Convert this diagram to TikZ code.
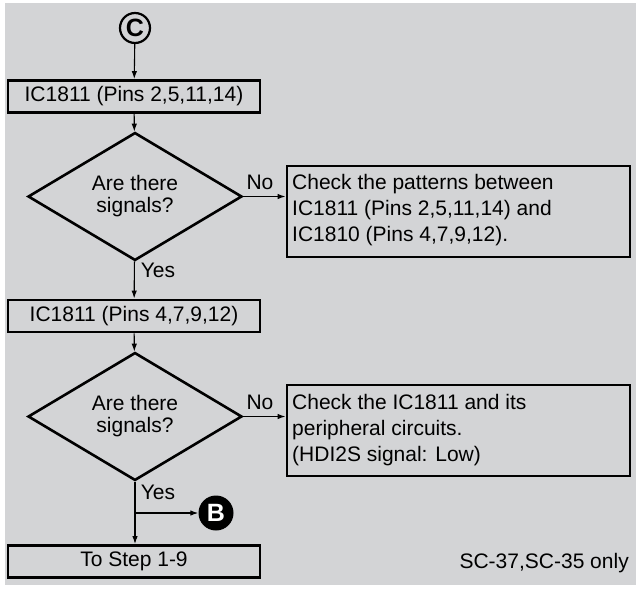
\documentclass[tikz,border=0pt]{standalone}
\usepackage{fontspec}
\setmainfont{Liberation Sans}
\usetikzlibrary{arrows.meta,shapes.geometric}
\definecolor{bggray}{HTML}{D3D4D6}
\tikzset{
  txt/.style={font=\fontsize{21}{26}\selectfont},
  stepbox/.style={txt,draw=black,line width=2.9pt,minimum width=252pt,minimum height=32pt,inner sep=0pt},
  notebox/.style={draw=black,line width=2.9pt,minimum width=343pt,inner sep=0pt},
  decision/.style={txt,diamond,draw=black,line width=2.6pt,minimum width=214pt,minimum height=117pt,inner sep=0pt,align=center,font=\fontsize{21}{22}\selectfont},
  conn/.style={line width=1.1pt,-{Latex[length=8pt,width=5.5pt]}},
  lbl/.style={txt,inner sep=0pt}
}
\begin{document}
\begin{tikzpicture}[x=1pt,y=-1pt]
\useasboundingbox (0,0) rectangle (637,592);
\fill[white] (0,0) rectangle (637,592);
\fill[bggray] (5,3) rectangle (636,585);
% connectors C and B
\node[circle,draw=black,line width=2.2pt,minimum size=30pt,inner sep=0pt,font=\fontsize{25}{25}\selectfont\bfseries] (C) at (135,28) {C};
\node[stepbox] (b1) at (134,96.5) {IC1811 (Pins 2,5,11,14)};
\node[decision] (d1) at (135,196.5) {Are there\\signals?};
\node[notebox,minimum height=91pt] (n1) at (458.5,211.5) {};
\node[lbl,align=left,anchor=west] (n1t) at (292,210) {Check the patterns between\\IC1811 (Pins 2,5,11,14) and\\IC1810 (Pins 4,7,9,12).};
\node[stepbox] (b2) at (134,316) {IC1811 (Pins 4,7,9,12)};
\node[decision] (d2) at (135,416.5) {Are there\\signals?};
\node[notebox,minimum height=91pt] (n2) at (458.5,430.5) {};
\node[lbl,align=left,anchor=west] (n2t) at (292,430) {Check the IC1811 and its\\peripheral circuits.\\(HDI2S signal: Low)};
\node[stepbox] (b3) at (134,561.5) {To Step 1-9};
\node[circle,fill=black,minimum size=35pt,inner sep=0pt,text=white,font=\fontsize{25}{25}\selectfont\bfseries] (B) at (216,513) {B};
\node[lbl,anchor=east] (note) at (629,563) {SC-37,SC-35 only};
% labels
\node[lbl] (no1) at (260,182) {No};
\node[lbl] (yes1) at (158,270) {Yes};
\node[lbl] (no2) at (260,402) {No};
\node[lbl] (yes2) at (158,492) {Yes};
\coordinate (br) at (135,513);
% connectors
\draw[conn] (C) -- (b1);
\draw[conn] (b1) -- (d1);
\draw[conn] (d1.east) -- (d1.east -| n1.west);
\draw[conn] (d1) -- (b2);
\draw[conn] (b2) -- (d2);
\draw[conn] (d2.east) -- (d2.east -| n2.west);
\draw[conn] (d2.south) -- (b3.north -| d2.south);
\draw[conn] (br) -- (B);
\end{tikzpicture}
\end{document}
